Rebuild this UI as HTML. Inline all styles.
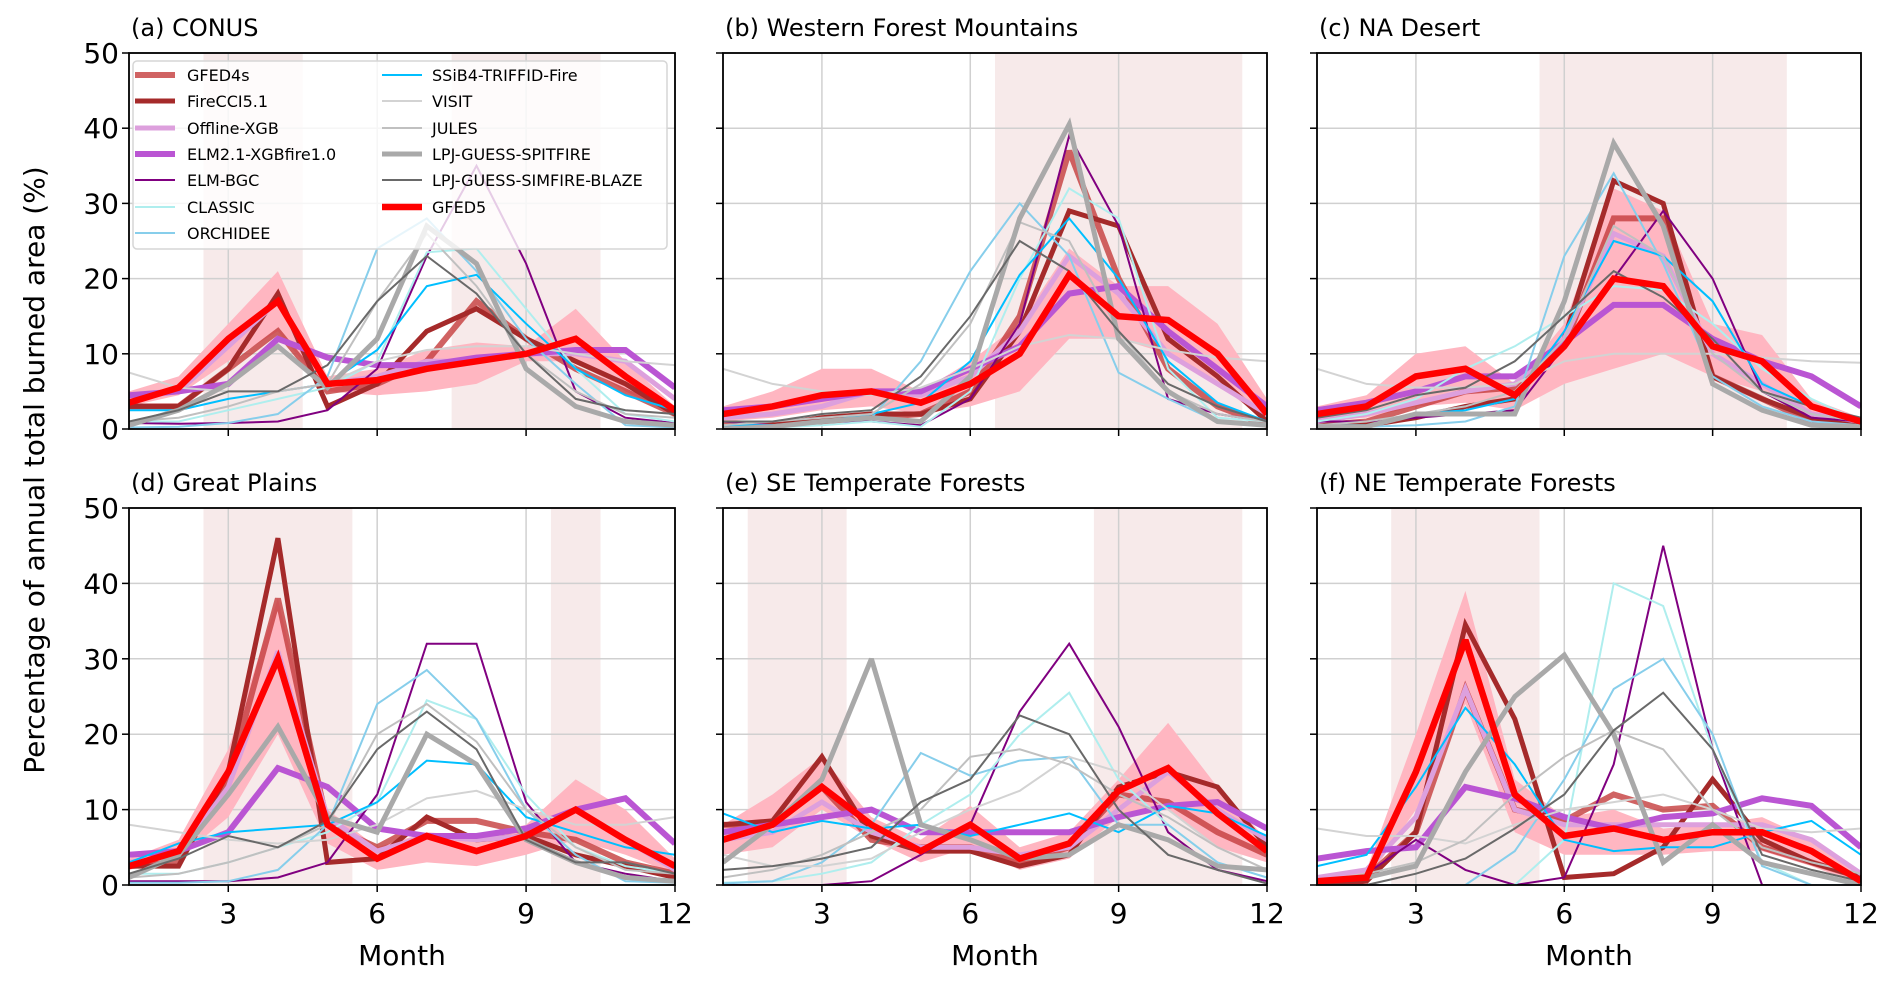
<!DOCTYPE html>
<html><head><meta charset="utf-8">
<style>
html,body{margin:0;padding:0;background:#fff;}
svg{display:block;font-family:"DejaVu Sans","Liberation Sans",sans-serif;}
</style></head>
<body>
<svg id="fig" width="1892" height="985" viewBox="0 0 1892 985" xmlns="http://www.w3.org/2000/svg"></svg>
<script>
// ---- data ----
const months = [1,2,3,4,5,6,7,8,9,10,11,12];
const panelTitles = ["(a) CONUS","(b) Western Forest Mountains","(c) NA Desert","(d) Great Plains","(e) SE Temperate Forests","(f) NE Temperate Forests"];
const yTicks = [0,10,20,30,40,50];
const xTicks = [3,6,9,12];
const seasons = [[[2.5,4.5],[7.5,10.5]],[[6.5,11.5]],[[5.5,10.5]],[[2.5,5.5],[9.5,10.5]],[[1.5,3.5],[8.5,11.5]],[[2.5,5.5]]];
const seriesNames = ["GFED4s","FireCCI5.1","Offline-XGB","ELM2.1-XGBfire1.0","ELM-BGC","CLASSIC","ORCHIDEE","SSiB4-TRIFFID-Fire","VISIT","JULES","LPJ-GUESS-SPITFIRE","LPJ-GUESS-SIMFIRE-BLAZE","GFED5"];
const gfed4s = [
 [3,3,8,13,5,6,9,17,12,8,5,2],
 [0.5,0.5,1,1.5,2,5,15,37,20,8,3,0.5],
 [0.5,1,3,5,5.5,11,28,28,7,4,1,0.5],
 [2.5,3,14,38,8,5,8.5,8.5,7,6,3,1.5],
 [8,8,13,6,5,5,3,5,12,11,7,4],
 [0.5,1,7,26,10,8.5,12,10,10.5,5,3,1]];
const firecci = [
 [3,3,8,18,3,6,13,16,12,9,6,2],
 [0,0.5,1.5,2,2,4,13,29,27,12,7,1],
 [0.5,0.5,1.5,3,4,12,33,30,7,4,1.5,0.5],
 [2.5,2.5,15,46,3,3.5,9,6,6.5,4,2.5,1],
 [8,8.5,17,6.5,4.5,4.5,2.5,4,13,15,13,5],
 [0,0.5,7,34.5,22,1,1.5,5,14,6,3,1]];
const offlineXgb = [
 [4,5,11,17,6,7,9,9,10,10,9,4],
 [1.5,2,3,5,4.5,7,13,23,18,10,6,2],
 [1,2,3.5,5,6,12,26,23,10,6,2,1],
 [3,4,13,31,9,4.5,6.5,6,6.5,10,6,2],
 [6,7,11,7,5,5,4,5,10,15,10,6],
 [1,2,9,26,10,8,8,8,8,8,6,1.5]];
const elm21 = [
 [4.5,5,6,12,9.5,8.5,8.5,9.5,10,10.5,10.5,5.5],
 [2.5,3,4,5,5,8,11,18,19,13,8,3],
 [2.5,3.5,5,7,7,11.5,16.5,16.5,12,9,7,3],
 [4,4.5,7,15.5,13,7.5,6.5,6.5,7.5,10,11.5,5.5],
 [7,8,9,10,7,7,7,7,9,10.5,11,7.5],
 [3.5,4.5,5,13,11.5,9,7.5,9,9.5,11.5,10.5,5]];
const elmBgc = [
 [0.8,0.7,0.8,1,2.5,8,23,35,22,5,1.5,0.8],
 [1,0.5,1,1,0.5,4,14,39,27,4,2,1],
 [1,1,1.5,2,2.5,11,20,29,20,5,1.5,1],
 [0.5,0.5,0.5,1,3,12,32,32,11,3,1.5,0.5],
 [0,0,0,0.5,4,8,23,32,21,7,2,0.5],
 [0,1.5,6,2,0,1,16,45,18,0,0,0]];
const classic = [
 [1,1,2.5,4,5.5,9,23.5,24,16,8,2,1],
 [0.2,0.2,0.5,1,0.3,5,20,32,28,8,1.5,1],
 [1,2,4,8,11,15,19,18.5,14,8,4,1],
 [1.5,1.5,3,5,7,11,24.5,22,12,5,2.5,1.5],
 [0.3,0.5,1.5,3,8,12,20,25.5,14,8,3,1],
 [0,0,0,0,0,6,40,37,18,3,0,0]];
const orchidee = [
 [0.2,0.3,0.8,2,7,24,28,21,12,6,0.5,0.2],
 [0.5,0.5,1,1.5,9,21,30,23,7.5,4,1,0.5],
 [0.2,0.3,0.5,1,3,23,34,22,7,3,1,0.5],
 [0.3,0.3,0.5,2,8,24,28.5,22,10,4,0.5,0.3],
 [0.2,0.5,3,8,17.5,14.5,16.5,17,8,8,3,1],
 [0,0,0,0,4.5,14,26,30,20,2.5,0,0]];
const ssib4 = [
 [2.5,2.5,4,5,6,10.5,19,20.5,14,8,4.5,2.5],
 [0.5,0.5,1,2,3.5,9,20.5,28,20,9,3.5,1],
 [0.5,0.5,2,2.5,4,13,25,23,17,6,3,1],
 [3,5.5,7,7.5,8,11,16.5,16,9,7,5,4],
 [9.5,7,8.5,7.5,8,6.5,8,9.5,7,10.5,9.5,6.5],
 [2.5,4,13,23.5,16,6,4.5,5,5,7,8.5,4]];
const visit = [
 [7.5,5.5,5,5,6,9,10.5,11,11,10,9,8.5],
 [8,6,5,4.5,5.5,8,11,12.5,12,10.5,9.5,9],
 [8,6,5.5,5.5,6,9,10,10,10,9.5,9,8.8],
 [8,7,6,5.5,6,8,11.5,12.5,10,8,8,9],
 [4,2.5,2.5,3.5,7,10,12.5,17,15,10,5,2],
 [7.5,6.5,6.5,5.5,8,10,11,12,10,7.5,7,7.5]];
const jules = [
 [1,1.5,3,5,6,17,26,19,10,5,2,1.5],
 [0.5,1,1.5,2,6,14,27.5,25,13,5,2,1],
 [0.5,1,2,3,5,12,27,23,10,5,2,1],
 [1,1.5,3,5,8,20,24,19,10,5,2,1.5],
 [1,2,4,7,10,17,18,16,12,9,5,2],
 [0.5,1.5,3,6,12,17,20.5,18,10,5,3,1.5]];
const spitfire = [
 [0.5,2.5,6,11,5.5,12,27,22,8,3,1,0.5],
 [0,0.3,1,1.5,1,7,28,40.5,12,5,1,0.5],
 [0.3,0.3,2,2,2,17,38,27,6,2.5,0.5,0.3],
 [1,4,12,21,9,7,20,16,6,3,1,0.5],
 [3,8,14,30,8,6,3.5,4,8,6,2.5,2],
 [0.5,1,2.5,15,25,30.5,20,3,8,3,1.5,0]];
const simfire = [
 [1,2.5,5,5,8.5,17,23,18,10,4,2.5,2],
 [1,1,2,2.5,7,15,25,21,13,6,3,1],
 [1.5,2.5,4.5,5.5,9,15,21,17.5,12,5,3,1.5],
 [1.5,3.5,6.5,5,8.5,18,23,18,6,3,3,1.5],
 [2,2.5,3.5,5,11,14,22.5,20,10,4,2,0.2],
 [0,0,1.5,3.5,7.5,12,20.5,25.5,18,4,2,0.5]];
const gfed5 = [
 [3.5,5.5,12,17,6,6.5,8,9,10,12,7,2.5],
 [2,3,4.5,5,3.5,6,10,20.5,15,14.5,10,2],
 [2,3,7,8,4.5,11,20,19,11,9,3,1],
 [2.5,4.5,15,30,8,3.5,6.5,4.5,6.5,10,6,2.5],
 [6,8,13,8,4.5,8,3.5,5.5,12.5,15.5,9.5,4.5],
 [0.5,1,15,32.5,12,6.5,7.5,6,7,7,4.5,0.5]];
const gfed5Low = [
 [3,4.5,9,13,5,4.5,5,6,9,9,5,2],
 [1,1.5,2.5,3,2,3,5,12,12,10,6,1],
 [1,1.5,3,3.5,2.5,6,8,10,7,5,1.5,0.5],
 [2,3.5,9,20,5.5,2,3,2.5,4,6,4,1.5],
 [4,5,10,6,3,5,2,3.5,9,10,5,3],
 [0,0.5,10,24,7,4,4,4,4.5,4.5,2.5,0]];
const gfed5High = [
 [5,7,14,21,7,8,10.5,11.5,11,16,9,3],
 [3,5,8,8,5,9,14,24,19,19,14,4],
 [3,4.5,10,11,6,14,32,29,14,12.5,4,1.5],
 [3.5,6,18,38,10,5,7,6.5,8,14,10,3.5],
 [8,12,17,9,6,10.5,5,7,14,21.5,13,6],
 [1,2,20,39,14,9,10,7.5,8,9,6,1]];

// ---- styles ----
const allSeries = [gfed4s,firecci,offlineXgb,elm21,elmBgc,classic,orchidee,ssib4,visit,jules,spitfire,simfire,gfed5];
const colors = ["rgba(196,60,60,0.8)","#a52a2a","#dda0dd","#ba55d3","#800080","#afeeee","#87ceeb","#00bfff","#d3d3d3","#c0c0c0","#a9a9a9","#696969","#ff0000"];
const widths = [6,5,5,6,2,2,2,2,2,2,5,2,6.5];
const keys = ["gfed4s","firecci","offline-xgb","elm21-xgbfire","elm-bgc","classic","orchidee","ssib4","visit","jules","lpj-spitfire","lpj-simfire","gfed5"];

const NS="http://www.w3.org/2000/svg";
const svg=document.getElementById('fig');
function mk(tag,attrs,parent){const e=document.createElementNS(NS,tag);for(const k in attrs)e.setAttribute(k,attrs[k]);(parent||svg).appendChild(e);return e;}

const colX=[[129,675],[723,1267],[1317,1861]];
const rowY=[[53,429],[508,885]];

panelTitles.forEach((title,p)=>{
  const col=p%3,row=Math.floor(p/3);
  const L=colX[col][0],R=colX[col][1],T=rowY[row][0],B=rowY[row][1];
  const xs=m=>L+(m-1)/11*(R-L);
  const ys=v=>B-v/50*(B-T);
  const g=mk('g',{});
  
  
  const clipId='clip'+p;
  const cp=mk('clipPath',{id:clipId},g);
  mk('rect',{x:L,y:T,width:R-L,height:B-T},cp);
  // seasons
  seasons[p].forEach((s,i)=>{
    const r=mk('rect',{x:xs(s[0]),y:T,width:xs(s[1])-xs(s[0]),height:B-T,fill:'#f7eaea'},g);
    
    
  });
  // grid
  yTicks.forEach(v=>{const l=mk('line',{x1:L,x2:R,y1:ys(v),y2:ys(v),stroke:'#d0d0d0','stroke-width':1.5},g);
    });
  xTicks.forEach(v=>{const l=mk('line',{x1:xs(v),x2:xs(v),y1:T,y2:B,stroke:'#d0d0d0','stroke-width':1.5},g);
    });
  const pg=mk('g',{'clip-path':'url(#'+clipId+')'},g);
  // band
  let d='';
  months.forEach((m,i)=>{d+=(i?'L':'M')+xs(m).toFixed(1)+','+ys(gfed5High[p][i]).toFixed(1);});
  for(let i=months.length-1;i>=0;i--){d+='L'+xs(months[i]).toFixed(1)+','+ys(gfed5Low[p][i]).toFixed(1);}
  const band=mk('path',{d:d+'Z',fill:'#ffb6c1',stroke:'none'},pg);
  
  
  // series
  allSeries.forEach((arr,s)=>{
    const pts=months.map((m,i)=>xs(m).toFixed(1)+','+ys(arr[p][i]).toFixed(1)).join(' ');
    const pl=mk('polyline',{points:pts,fill:'none',stroke:colors[s],'stroke-width':widths[s],'stroke-linejoin':'miter','stroke-miterlimit':3},pg);
    
    
  });
  // frame
  const fr=mk('rect',{x:L,y:T,width:R-L,height:B-T,fill:'none',stroke:'#000','stroke-width':1.8},g);
  
  
  // ticks
  yTicks.forEach(v=>{
    mk('line',{x1:L-7,x2:L,y1:ys(v),y2:ys(v),stroke:'#000','stroke-width':1.5},g);
    if(col===0){const t=mk('text',{x:L-10,y:ys(v)+10,'text-anchor':'end','font-size':28,fill:'#000'},g);t.textContent=v;
      }
  });
  xTicks.forEach(v=>{
    mk('line',{x1:xs(v),x2:xs(v),y1:B,y2:B+7,stroke:'#000','stroke-width':1.5},g);
    if(row===1){const t=mk('text',{x:xs(v),y:B+38,'text-anchor':'middle','font-size':28,fill:'#000'},g);t.textContent=v;
      }
  });
  if(row===1){const t=mk('text',{x:(L+R)/2,y:B+80,'text-anchor':'middle','font-size':28,fill:'#000'},g);t.textContent='Month';
    }
  const tt=mk('text',{x:L+2,y:T-17,'font-size':24,fill:'#000'},g);tt.textContent=title;
  
  
});

// y label
const yl=mk('text',{x:0,y:0,transform:'translate(44,470) rotate(-90)','text-anchor':'middle','font-size':28,fill:'#000'});
yl.textContent='Percentage of annual total burned area (%)';



// legend
const lg=mk('g',{});


mk('rect',{x:133,y:61,width:534,height:188,rx:4,fill:'rgba(255,255,255,0.8)',stroke:'#d6d6d6','stroke-width':1.5},lg);
const legRows=[75,101,128,154,180,207,233];
seriesNames.forEach((n,s)=>{
  const c=s<7?0:1,r=s<7?s:s-7;
  const lx=c?382:135,tx=c?432:187,y=legRows[r];
  const e=mk('g',{},lg);
  
  
  mk('line',{x1:lx,x2:lx+40,y1:y,y2:y,stroke:colors[s],'stroke-width':widths[s]},e);
  const t=mk('text',{x:tx,y:y+6,'font-size':16,fill:'#000'},e);t.textContent=n;
});
</script>
</body></html>
